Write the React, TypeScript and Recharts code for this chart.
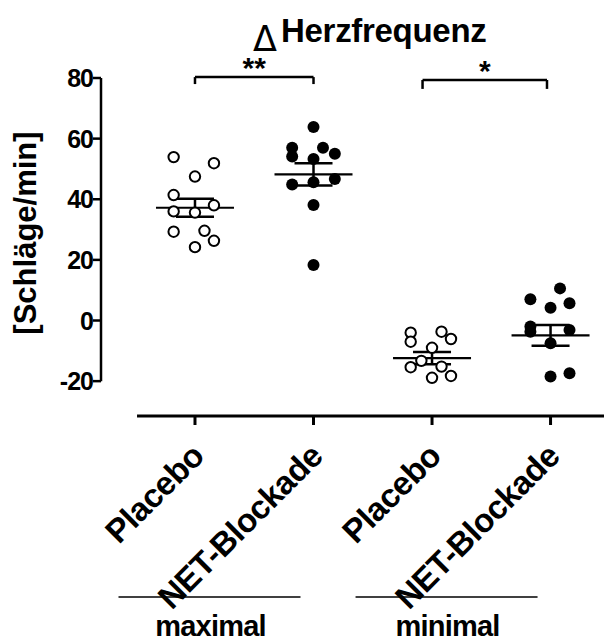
import { ScatterChart, Scatter, XAxis, YAxis, ReferenceLine, ErrorBar, Label } from "recharts";

// categories
const groups = ["Placebo", "NET-Blockade", "Placebo", "NET-Blockade"];
const conditions = ["maximal", "minimal"];
const yTicks = [-20, 0, 20, 40, 60, 80];

// individual values (Schläge/min)
const maxPlacebo = [53.9, 51.9, 47.5, 41.4, 38.0, 36.0, 35.6, 29.3, 29.6, 26.3, 24.2];
const maxNet = [63.8, 57.0, 57.0, 54.1, 55.0, 53.3, 46.7, 44.9, 45.6, 38.1, 18.3];
const minPlacebo = [-4.0, -7.0, -3.7, -6.1, -9.0, -13.3, -15.4, -15.2, -18.9, -18.3];
const minNet = [10.6, 7.0, 5.7, 4.2, -2.0, -3.7, -3.1, -7.5, -17.4, -18.5];

// horizontal scatter of the dots in each column (category units)
const maxPlaceboLane = [-0.18, 0.16, 0, -0.18, 0.16, -0.18, 0, -0.18, 0.08, 0.16, 0];
const maxNetLane = [0, -0.18, 0.08, -0.18, 0.18, 0, 0.18, -0.18, 0, 0, 0];
const minPlaceboLane = [-0.18, -0.18, 0.08, 0.16, 0, -0.09, -0.18, 0.08, 0, 0.16];
const minNetLane = [0.08, -0.17, 0.16, 0, -0.17, -0.17, 0.16, 0, 0.16, 0];

// mean ± SEM as drawn
const means = [37.2, 48.2, -12.4, -4.9];
const sems = [3.0, 3.7, 2.0, 3.4];

// significance brackets
const sigFrom = [1, 2.92];
const sigTo = [2, 3.97];
const sigTop = [80.3, 79.35];
const sigLeg = [78.0, 76.4];
const sigText = ["**", "*"];

const FONT = "'Liberation Sans', Arial, Helvetica, sans-serif";
const X_MIN = 0.207;
const X_MAX = 4.451;
const Y_MIN = -31.5;

const pts = (vals: number[], lane: number[], pos: number) =>
  vals.map((v, i) => ({ x: pos + lane[i], y: v }));

const summary = means.map((m, i) => ({ x: i + 1, y: m, sem: sems[i] }));

const OpenDot = (p: any) => (
  <circle cx={p.cx} cy={p.cy} r={5.2} fill="#fff" stroke="#000" strokeWidth={2} />
);
const FilledDot = (p: any) => <circle cx={p.cx} cy={p.cy} r={6} fill="#000" />;
const MeanMark = (p: any) => (
  <line x1={p.cx - 39} x2={p.cx + 39} y1={p.cy} y2={p.cy} stroke="#000" strokeWidth={2.2} />
);

function XTick({ x, y, payload }: any) {
  const i = Math.round(payload.value) - 1;
  return (
    <g>
      <line x1={x} x2={x} y1={y} y2={y + 9} stroke="#000" strokeWidth={3} />
      <text
        transform={`translate(${x + 11},${y + 42}) rotate(-45)`}
        textAnchor="end"
        fontFamily={FONT}
        fontWeight="bold"
        fontSize={33}
        letterSpacing={-0.5}
        fill="#000"
      >
        {groups[i]}
      </text>
      {i % 2 === 1 && (
        <g>
          <line x1={x - 195} x2={x - 13} y1={y + 181} y2={y + 181} stroke="#000" strokeWidth={1.5} />
          <text
            x={x - 103}
            y={y + 220}
            textAnchor="middle"
            fontFamily={FONT}
            fontWeight="bold"
            fontSize={29}
            letterSpacing={-0.8}
            fill="#000"
          >
            {conditions[(i - 1) / 2]}
          </text>
        </g>
      )}
    </g>
  );
}

function YTick({ x, y, payload }: any) {
  return (
    <g>
      <line x1={x - 8} x2={x} y1={y} y2={y} stroke="#000" strokeWidth={2.5} />
      <text
        x={x - 8}
        y={y}
        dy="0.36em"
        textAnchor="end"
        fontFamily={FONT}
        fontWeight="bold"
        fontSize={25}
        letterSpacing={-1}
        fill="#000"
      >
        {payload.value}
      </text>
    </g>
  );
}

export default function App() {
  return (
    <div style={{ position: "absolute", left: 0, top: 0, background: "#fff" }}>
      <ScatterChart width={604} height={644} margin={{ top: 78, right: 0, bottom: 28, left: 41 }}>
        <XAxis
          type="number"
          dataKey="x"
          domain={[X_MIN, X_MAX]}
          ticks={[1, 2, 3, 4]}
          allowDataOverflow
          axisLine={false}
          tickLine={false}
          tickSize={0}
          tickMargin={0}
          height={200}
          tick={<XTick />}
          interval={0}
        />
        <YAxis
          type="number"
          dataKey="y"
          domain={[Y_MIN, 80]}
          ticks={yTicks}
          allowDataOverflow
          axisLine={false}
          tickLine={false}
          tickSize={0}
          tickMargin={0}
          width={60}
          tick={<YTick />}
          interval={0}
        />
        {/* offset axes */}
        <ReferenceLine
          segment={[{ x: X_MIN, y: -20 }, { x: X_MIN, y: 80 }]}
          stroke="#000"
          strokeWidth={2.5}
          ifOverflow="visible"
        />
        <ReferenceLine
          segment={[{ x: 0.511, y: Y_MIN }, { x: X_MAX, y: Y_MIN }]}
          stroke="#000"
          strokeWidth={3}
          ifOverflow="visible"
        />
        {sigText.map((t, i) => (
          <ReferenceLine
            key={"h" + i}
            segment={[{ x: sigFrom[i], y: sigTop[i] }, { x: sigTo[i], y: sigTop[i] }]}
            stroke="#000"
            strokeWidth={2.5}
            ifOverflow="visible"
          >
            <Label
              value={t}
              position="top"
              offset={-1}
              fontFamily={FONT}
              fontWeight="bold"
              fontSize={30}
              fill="#000"
            />
          </ReferenceLine>
        ))}
        {sigText.map((t, i) => (
          <ReferenceLine
            key={"l" + i}
            segment={[{ x: sigFrom[i], y: sigTop[i] }, { x: sigFrom[i], y: sigLeg[i] }]}
            stroke="#000"
            strokeWidth={2.5}
            ifOverflow="visible"
          />
        ))}
        {sigText.map((t, i) => (
          <ReferenceLine
            key={"r" + i}
            segment={[{ x: sigTo[i], y: sigTop[i] }, { x: sigTo[i], y: sigLeg[i] }]}
            stroke="#000"
            strokeWidth={2.5}
            ifOverflow="visible"
          />
        ))}
        <Scatter data={summary} shape={<MeanMark />} isAnimationActive={false}>
          <ErrorBar dataKey="sem" direction="y" width={19} strokeWidth={2.5} stroke="#000" isAnimationActive={false} />
        </Scatter>
        <Scatter data={pts(maxPlacebo, maxPlaceboLane, 1)} shape={<OpenDot />} isAnimationActive={false} />
        <Scatter data={pts(maxNet, maxNetLane, 2)} shape={<FilledDot />} isAnimationActive={false} />
        <Scatter data={pts(minPlacebo, minPlaceboLane, 3)} shape={<OpenDot />} isAnimationActive={false} />
        <Scatter data={pts(minNet, minNetLane, 4)} shape={<FilledDot />} isAnimationActive={false} />
        <text
          x={253}
          y={51}
          fontFamily="'DejaVu Sans', sans-serif"
          fill="#000"
          fontSize={35}
        >
          {"\u0394"}
        </text>
        <text
          x={281}
          y={42}
          fontFamily={FONT}
          fontWeight="bold"
          fill="#000"
          letterSpacing={-0.3}
          fontSize={33}
        >
          Herzfrequenz
        </text>
        <text
          transform="translate(36,233) rotate(-90)"
          textAnchor="middle"
          fontFamily={FONT}
          fontWeight="bold"
          fontSize={31}
          fill="#000"
        >
          [Schläge/min]
        </text>
      </ScatterChart>
    </div>
  );
}
